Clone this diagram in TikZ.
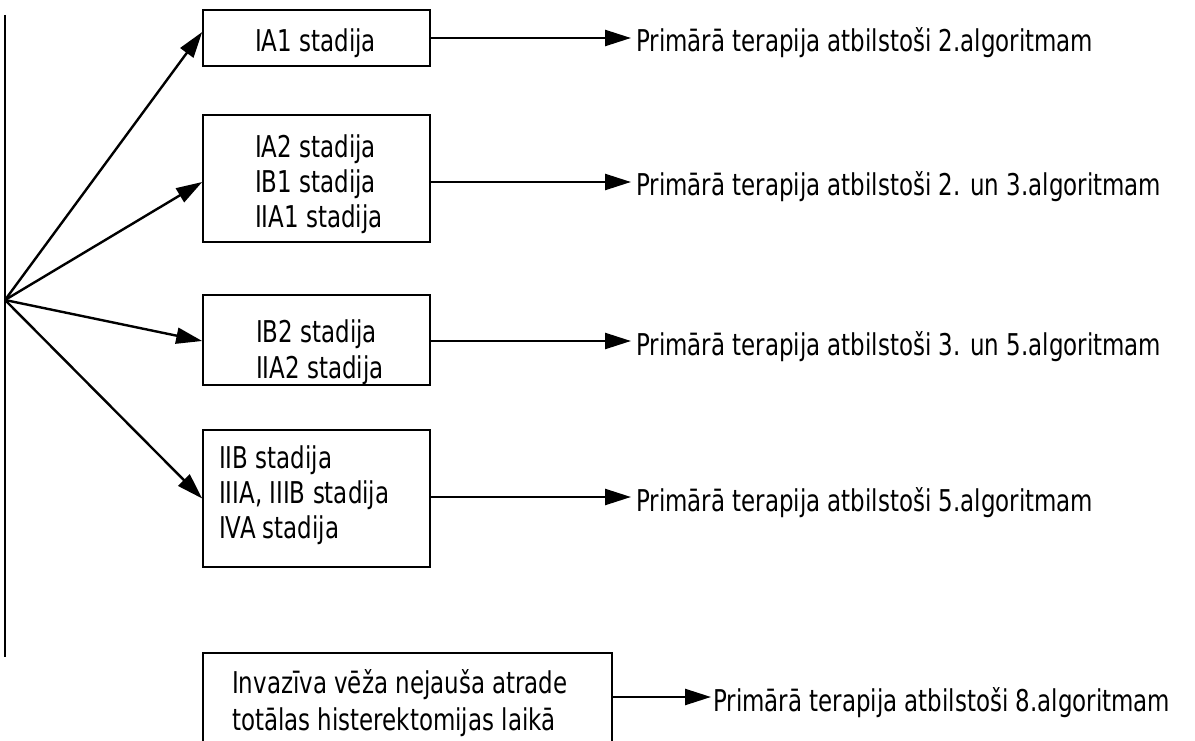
\documentclass[tikz,border=0pt]{standalone}
\usepackage{fontspec}
\setmainfont[FakeStretch=0.85]{DejaVu Sans Condensed}
\usetikzlibrary{arrows.meta,calc}
\begin{document}
\begin{tikzpicture}[x=1pt,y=-1pt,
  box/.style={draw,line width=1.6pt,minimum width=227pt,inner sep=0pt},
  btxt/.style={anchor=base west,inner sep=0pt,font=\fontsize{30}{35}\selectfont},
  lbl/.style={anchor=base west,inner sep=0pt,font=\fontsize{30}{35}\selectfont},
  arr/.style={line width=2.4pt,-{Triangle[length=26pt,width=16pt]}}]
\useasboundingbox (0,0) rectangle (1195,741);
\fill[white] (0,0) rectangle (1195,741);
\clip (0,0) rectangle (1195,741);
% trunk
\coordinate (top) at (5,15);
\coordinate (bot) at (5,657);
\coordinate (o) at (5,300);
\draw[line width=2.2pt] (top) -- (bot);
% boxes
\node[box,minimum height=56pt] (b1) at (316.5,38) {};
\node[box,minimum height=127pt] (b2) at (316.5,178.5) {};
\node[box,minimum height=90pt] (b3) at (316.5,340) {};
\node[box,minimum height=137pt] (b4) at (316.5,498.5) {};
\node[box,minimum width=409pt,minimum height=98pt] (b5) at (407.5,702) {};
% box texts
\node[btxt] (s1) at (255,52) {IA1 stadija};
\node[btxt] (s2a) at (255,158) {IA2 stadija};
\node[btxt] (s2b) at (255,193) {IB1 stadija};
\node[btxt] (s2c) at (255,228) {IIA1 stadija};
\node[btxt] (s3a) at (256,342) {IB2 stadija};
\node[btxt] (s3b) at (256,378) {IIA2 stadija};
\node[btxt] (s4a) at (219,468) {IIB stadija};
\node[btxt] (s4b) at (219,503) {IIIA, IIIB stadija};
\node[btxt] (s4c) at (219,538) {IVA stadija};
\node[btxt] (s5a) at (232,693) {Invazīva vēža nejauša atrade};
\node[btxt] (s5b) at (232,730) {totālas histerektomijas laikā};
% labels
\node[lbl] (t1) at (636,52) {Primārā terapija atbilstoši 2.algoritmam};
\node[lbl] (t2) at (636,196) {Primārā terapija atbilstoši 2. un 3.algoritmam};
\node[lbl] (t3) at (636,355) {Primārā terapija atbilstoši 3. un 5.algoritmam};
\node[lbl] (t4) at (636,511) {Primārā terapija atbilstoši 5.algoritmam};
\node[lbl] (t5) at (713,711) {Primārā terapija atbilstoši 8.algoritmam};
\coordinate (e1) at ($(t1.base west)+(-5,-14)$);
\coordinate (e2) at ($(t2.base west)+(-5,-14)$);
\coordinate (e3) at ($(t3.base west)+(-5,-14)$);
\coordinate (e4) at ($(t4.base west)+(-5,-14)$);
\coordinate (e5) at ($(t5.base west)+(-2,-14)$);
% fan arrows
\draw[arr] (o) -- ($(b1.west)+(0,-6)$);
\draw[arr] (o) -- ($(b2.west)+(0,3.5)$);
\draw[arr] (o) -- ($(b3.west)+(0,1)$);
\draw[arr] (o) -- (b4.west);
% right arrows
\draw[arr] (b1.east |- e1) -- (e1);
\draw[arr] (b2.east |- e2) -- (e2);
\draw[arr] (b3.east |- e3) -- (e3);
\draw[arr] (b4.east |- e4) -- (e4);
\draw[arr] (b5.east |- e5) -- (e5);
\end{tikzpicture}
\end{document}
